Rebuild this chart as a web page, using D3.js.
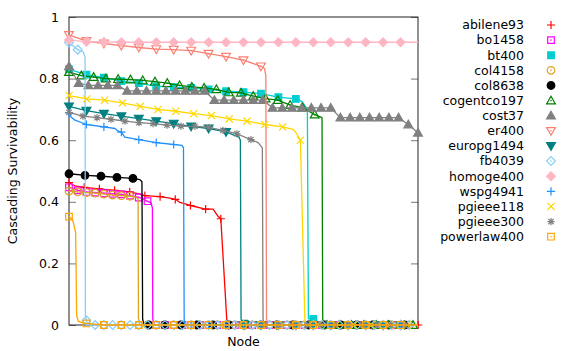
<!DOCTYPE html>
<html><head><meta charset="utf-8">
<script src="https://cdn.jsdelivr.net/npm/d3@7"></script>
<style>body{margin:0;background:#fff}svg{display:block}text{font-family:"DejaVu Sans",sans-serif;font-size:12.5px;fill:#000}</style>
</head><body><svg id="c" width="585" height="351"></svg>
<script>
// ---- data (x = fraction of nodes, y = cascading survivability) ----
const names = ["abilene93","bo1458","bt400","col4158","col8638","cogentco197","cost37","er400","europg1494","fb4039","homoge400","wspg4941","pgieee118","pgieee300","powerlaw400"];
const yTicks = [0, 0.2, 0.4, 0.6, 0.8, 1];
const yTickLabels = ["0", "0.2", "0.4", "0.6", "0.8", "1"];

// marker sampling step (fraction of nodes between markers)
const markStep = [0.0435, 0.025, 0.05, 0.025, 0.0458, 0.0352, 1/36, 0.05, 0.05, 0.025, 0.05, 0.05, 0.051, 0.0401, 0.05];

// values at the marked samples
const abilene93Marks = [0.462,0.447,0.442,0.437,0.432,0.42,0.417,0.408,0.388,0.376,0.345,0,0,0,0,0,0,0,0,0,0,0,0,0];
const bo1458Marks = [0.447,0.437,0.432,0.43,0.428,0.426,0.424,0.42,0.414,0.402,0,0,0,0,0,0,0,0,0,0,0,0,0,0,0,0,0,0,0,0,0,0,0,0,0,0,0,0,0,0];
const bt400Marks = [0.83,0.813,0.803,0.792,0.785,0.775,0.772,0.77,0.765,0.759,0.756,0.751,0.74,0.734,0.02,0,0,0,0,0];
const col4158Marks = [0.435,0.432,0.43,0.428,0.425,0.422,0.42,0.418,0,0,0,0,0,0,0,0,0,0,0,0,0,0,0,0,0,0,0,0,0,0,0,0,0,0,0,0,0,0,0,0];
const col8638Marks = [0.491,0.486,0.483,0.479,0.476,0,0,0,0,0,0,0,0,0,0,0,0,0,0,0,0,0];
const cogentco197Marks = [0.821,0.81,0.805,0.8,0.798,0.797,0.794,0.79,0.785,0.778,0.773,0.77,0.765,0.755,0.754,0.743,0.735,0.73,0.714,0.706,0.683,0,0,0,0,0,0,0,0];
const cost37Marks = [0.84,0.785,0.778,0.778,0.778,0.778,0.76,0.76,0.76,0.76,0.76,0.76,0.76,0.76,0.76,0.73,0.73,0.73,0.73,0.73,0.73,0.705,0.705,0.705,0.705,0.705,0.705,0.705,0.673,0.673,0.673,0.673,0.673,0.673,0.673,0.651,0.624];
const er400Marks = [0.942,0.922,0.914,0.907,0.901,0.896,0.894,0.891,0.881,0.871,0.86,0.84,0,0,0,0,0,0,0,0];
const europg1494Marks = [0.71,0.696,0.686,0.678,0.67,0.662,0.654,0.645,0.638,0.627,0,0,0,0,0,0,0,0,0,0];
const fb4039Marks = [0.917,0.894,0.015,0,0,0,0,0,0,0,0,0,0,0,0,0,0,0,0,0,0,0,0,0,0,0,0,0,0,0,0,0,0,0,0,0,0,0,0,0];
const homoge400Marks = [0.925,0.92,0.919,0.918,0.918,0.918,0.918,0.918,0.918,0.918,0.918,0.918,0.918,0.918,0.918,0.918,0.918,0.918,0.918,0.918];
const wspg4941Marks = [0.689,0.651,0.643,0.626,0.602,0.592,0.586,0,0,0,0,0,0,0,0,0,0,0,0,0];
const pgieee118Marks = [0.745,0.734,0.73,0.721,0.71,0.7,0.694,0.686,0.68,0.669,0.662,0.651,0.643,0.6,0,0,0,0,0,0];
const pgieee300Marks = [0.69,0.678,0.673,0.668,0.662,0.657,0.654,0.649,0.646,0.645,0.642,0.632,0.621,0.602,0,0,0,0,0,0,0,0,0,0,0];
const powerlaw400Marks = [0.352,0.005,0,0,0,0,0,0,0,0,0,0,0,0,0,0,0,0,0,0];

// full curves [x, y]
const abilene93Line = [[0,0.462],[0.017,0.452],[0.044,0.447],[0.087,0.442],[0.13,0.437],[0.174,0.432],[0.203,0.425],[0.217,0.42],[0.261,0.417],[0.289,0.412],[0.305,0.408],[0.318,0.398],[0.348,0.388],[0.391,0.376],[0.413,0.376],[0.427,0.353],[0.435,0.345],[0.453,0],[1,0]];
const bo1458Line = [[0,0.447],[0.026,0.437],[0.052,0.432],[0.077,0.43],[0.103,0.428],[0.126,0.426],[0.152,0.424],[0.175,0.42],[0.198,0.415],[0.212,0.41],[0.223,0.402],[0.235,0.397],[0.239,0.38],[0.24,0.02],[0.244,0],[1,0]];
const bt400Line = [[0,0.83],[0.05,0.813],[0.1,0.803],[0.15,0.792],[0.2,0.785],[0.25,0.775],[0.3,0.772],[0.35,0.77],[0.4,0.765],[0.45,0.759],[0.5,0.756],[0.55,0.751],[0.6,0.74],[0.65,0.734],[0.668,0.725],[0.676,0.712],[0.683,0.7],[0.686,0.02],[0.709,0.02],[0.712,0],[1,0]];
const col4158Line = [[0,0.435],[0.026,0.432],[0.052,0.43],[0.077,0.428],[0.103,0.425],[0.126,0.422],[0.152,0.42],[0.175,0.418],[0.192,0.415],[0.198,0.41],[0.199,0.02],[0.203,0],[1,0]];
const col8638Line = [[0,0.491],[0.049,0.486],[0.094,0.483],[0.138,0.479],[0.184,0.476],[0.203,0.472],[0.209,0.465],[0.211,0.02],[0.215,0],[1,0]];
const cogentco197Line = [[0,0.821],[0.035,0.81],[0.07,0.805],[0.106,0.8],[0.141,0.798],[0.176,0.797],[0.211,0.794],[0.246,0.79],[0.282,0.785],[0.317,0.778],[0.352,0.773],[0.387,0.77],[0.422,0.765],[0.458,0.755],[0.493,0.754],[0.528,0.743],[0.563,0.735],[0.598,0.73],[0.634,0.714],[0.669,0.706],[0.704,0.683],[0.725,0.673],[0.727,0.02],[0.731,0],[1,0]];
const er400Line = [[0,0.942],[0.05,0.922],[0.1,0.914],[0.15,0.907],[0.2,0.901],[0.25,0.896],[0.3,0.894],[0.35,0.891],[0.4,0.881],[0.45,0.871],[0.5,0.86],[0.55,0.84],[0.56,0.833],[0.564,0.81],[0.566,0.02],[0.57,0],[1,0]];
const europg1494Line = [[0,0.71],[0.05,0.696],[0.1,0.686],[0.15,0.678],[0.2,0.67],[0.25,0.662],[0.3,0.654],[0.35,0.645],[0.4,0.638],[0.45,0.627],[0.476,0.615],[0.487,0.61],[0.491,0.6],[0.493,0.02],[0.494,0.015],[0.513,0.015],[0.516,0],[1,0]];
const fb4039Line = [[0,0.917],[0.025,0.894],[0.04,0.888],[0.046,0.87],[0.047,0.03],[0.05,0.015],[0.054,0],[1,0]];
const homoge400Line = [[0,0.925],[0.05,0.92],[0.1,0.919],[0.15,0.918],[1,0.918]];
const wspg4941Line = [[0,0.689],[0.006,0.675],[0.017,0.665],[0.05,0.651],[0.1,0.643],[0.132,0.638],[0.14,0.63],[0.15,0.626],[0.16,0.61],[0.2,0.602],[0.25,0.592],[0.3,0.586],[0.324,0.583],[0.328,0.575],[0.33,0.02],[0.332,0],[1,0]];
const pgieee118Line = [[0,0.745],[0.051,0.734],[0.102,0.73],[0.153,0.721],[0.204,0.71],[0.255,0.7],[0.306,0.694],[0.357,0.686],[0.408,0.68],[0.459,0.669],[0.51,0.662],[0.561,0.651],[0.612,0.643],[0.642,0.635],[0.65,0.625],[0.663,0.6],[0.676,0.01],[0.679,0],[1,0]];
const pgieee300Line = [[0,0.69],[0.04,0.678],[0.08,0.673],[0.12,0.668],[0.16,0.662],[0.2,0.657],[0.241,0.654],[0.281,0.649],[0.321,0.646],[0.361,0.645],[0.401,0.642],[0.441,0.632],[0.481,0.621],[0.521,0.602],[0.542,0.592],[0.554,0.575],[0.556,0.02],[0.559,0],[1,0]];
const powerlaw400Line = [[0,0.352],[0.011,0.34],[0.019,0.3],[0.022,0.03],[0.027,0.012],[0.037,0.008],[0.05,0.005],[0.074,0.003],[0.103,0],[1,0]];
const cost37Line = null; // drawn through its markers

const allMarks = [abilene93Marks,bo1458Marks,bt400Marks,col4158Marks,col8638Marks,cogentco197Marks,cost37Marks,er400Marks,europg1494Marks,fb4039Marks,homoge400Marks,wspg4941Marks,pgieee118Marks,pgieee300Marks,powerlaw400Marks];
const allLines = [abilene93Line,bo1458Line,bt400Line,col4158Line,col8638Line,cogentco197Line,cost37Line,er400Line,europg1494Line,fb4039Line,homoge400Line,wspg4941Line,pgieee118Line,pgieee300Line,powerlaw400Line];

// ---- styles ----
const colors = ["#ff0000","#ff00ff","#00ced1","#daa520","#000000","#008000","#808080","#fa8072","#008080","#87cefa","#ffb6c1","#1e90ff","#ffd700","#808080","#ffa500"];
const shapes = ["plus","squareO","squareF","circleO","circleF","triO","triF","invTriO","invTriF","diamondO","diamondF","plus","cross","star","squareO"];

const svg = d3.select("#c");
const m = {l:69, r:418, t:17, b:325};
const x = d3.scaleLinear().domain([0,1]).range([m.l, m.r]);
const y = d3.scaleLinear().domain([0,1]).range([m.b, m.t]);

// ticks (inside, both sides)
const tickCol = "#777";
const yAxisL = d3.axisLeft(y).tickValues(yTicks).tickSize(-7).tickFormat((d,i)=>yTickLabels[i]).tickPadding(10);
const gL = svg.append("g").attr("transform",`translate(${m.l},0)`).call(yAxisL);
gL.select(".domain").remove();
gL.selectAll("line").attr("stroke",tickCol);
gL.selectAll("text").attr("font-size","12.5px").attr("font-family","DejaVu Sans").attr("fill","#000");
const yAxisR = d3.axisRight(y).tickValues(yTicks).tickSize(-7).tickFormat("");
const gR = svg.append("g").attr("transform",`translate(${m.r},0)`).call(yAxisR);
gR.select(".domain").remove();
gR.selectAll("line").attr("stroke",tickCol);

// border
svg.append("rect").attr("x",m.l).attr("y",m.t).attr("width",m.r-m.l).attr("height",m.b-m.t)
  .attr("fill","none").attr("stroke","#222").attr("stroke-width",1);

// labels
svg.append("text").attr("x",(m.l+m.r)/2).attr("y",346).attr("text-anchor","middle").text("Node");
svg.append("text").attr("transform",`translate(17,${(m.t+m.b)/2}) rotate(-90)`).attr("text-anchor","middle").text("Cascading Survivability");

function drawShape(g, shape, col){
  const s = 3.6;
  if(shape==="plus"){
    g.append("path").attr("d",`M${-s-0.5},0H${s+0.5}M0,${-s-0.5}V${s+0.5}`).attr("stroke",col).attr("stroke-width",1.2).attr("fill","none");
  } else if(shape==="cross"){
    g.append("path").attr("d",`M${-s},${-s}L${s},${s}M${-s},${s}L${s},${-s}`).attr("stroke",col).attr("stroke-width",1.2).attr("fill","none");
  } else if(shape==="star"){
    g.append("path").attr("d",`M${-s},0H${s}M0,${-s}V${s}M${-s*0.75},${-s*0.75}L${s*0.75},${s*0.75}M${-s*0.75},${s*0.75}L${s*0.75},${-s*0.75}`).attr("stroke",col).attr("stroke-width",1.2).attr("fill","none");
  } else {
    let d; const filled = shape.endsWith("F");
    const base = shape.slice(0,-1);
    if(base==="square") d = `M${-s+0.3},${-s+0.3}H${s-0.3}V${s-0.3}H${-s+0.3}Z`;
    else if(base==="circle") d = d3.arc()({innerRadius:0,outerRadius:s+0.2,startAngle:0,endAngle:2*Math.PI});
    else if(base==="tri") { const t=s+0.8; d = `M0,${-t}L${t},${t*0.75}L${-t},${t*0.75}Z`; }
    else if(base==="invTri") { const t=s+0.8; d = `M0,${t}L${t},${-t*0.75}L${-t},${-t*0.75}Z`; }
    else if(base==="diamond") { const t=s+0.8; d = `M0,${-t}L${t},0L0,${t}L${-t},0Z`; }
    g.append("path").attr("d",d).attr("fill",filled?col:"none").attr("stroke",col).attr("stroke-width",1.2);
    if(!filled) g.append("circle").attr("r",0.8).attr("fill",col);
  }
}

const line = d3.line().x(d=>x(d[0])).y(d=>y(d[1]));
names.forEach((n,i)=>{
  const marks = allMarks[i].map((v,k)=>[k*markStep[i], v]);
  const pts = allLines[i] || marks;
  const g = svg.append("g");
  g.append("path").attr("d",line(pts)).attr("fill","none").attr("stroke",colors[i]).attr("stroke-width",1.3).attr("stroke-linejoin","round");
  marks.forEach(p=>{
    const mg = g.append("g").attr("transform",`translate(${x(p[0])},${y(p[1])})`);
    drawShape(mg, shapes[i], colors[i]);
  });
});

// legend
names.forEach((n,i)=>{
  const yy = 25 + i*15.12;
  svg.append("text").attr("x",524).attr("y",yy).attr("dy","0.35em").attr("text-anchor","end").text(n);
  const mg = svg.append("g").attr("transform",`translate(551,${yy})`);
  drawShape(mg, shapes[i], colors[i]);
});
</script></body></html>
